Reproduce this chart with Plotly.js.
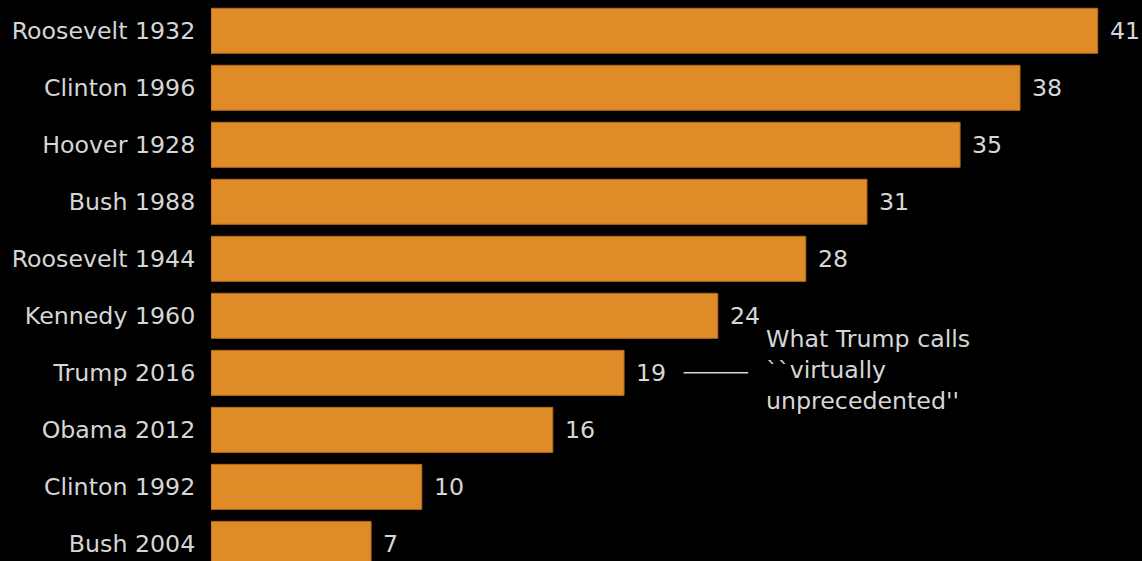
<!DOCTYPE html>
<html>
<head>
<meta charset="utf-8">
<script src="https://cdn.plot.ly/plotly-3.0.1.min.js"></script>
<style>html,body{margin:0;padding:0;background:#000;}#chart{width:1142px;height:561px;}</style>
</head>
<body>
<div id="chart"></div>
<script>
const categories = ["Roosevelt 1932","Clinton 1996","Hoover 1928","Bush 1988","Roosevelt 1944","Kennedy 1960","Trump 2016","Obama 2012","Clinton 1992","Bush 2004"];
const labels = [41, 38, 35, 31, 28, 24, 19, 16, 10, 7];
const lengths = [41.43, 37.8, 35.0, 30.65, 27.79, 23.68, 19.3, 15.97, 9.85, 7.48];
const calloutCategory = "Trump 2016";
const calloutText = "What Trump calls<br>``virtually<br>unprecedented''";

const FONT = "DejaVu Sans, Verdana, sans-serif";
const TXT = "#d6d6d6";
const FS = 23.7;

const trace = {
  type: "bar",
  orientation: "h",
  y: categories,
  x: lengths,
  marker: {color: "#df8b27", line: {color: "#b36a1c", width: 1}},
  width: 0.79,
  hoverinfo: "none"
};

const annotations = categories.map((c, i) => ({
  x: lengths[i], y: c, xref: "x", yref: "y",
  text: String(labels[i]), showarrow: false,
  xanchor: "left", yanchor: "middle", xshift: 10,
  font: {family: FONT, size: FS, color: TXT}
}));

const ci = categories.indexOf(calloutCategory);
annotations.push({
  x: lengths[ci] + 6.55, y: ci, xref: "x", yref: "y",
  text: calloutText, showarrow: false, align: "left",
  xanchor: "left", yanchor: "middle", yshift: 3,
  font: {family: FONT, size: FS, color: TXT}
});

const shapes = [{
  type: "line", xref: "x", yref: "y",
  x0: lengths[ci] + 2.78, x1: lengths[ci] + 5.8, y0: ci, y1: ci,
  line: {color: TXT, width: 1.5}
}];

const layout = {
  width: 1142, height: 561,
  paper_bgcolor: "#000", plot_bgcolor: "#000",
  margin: {l: 211, r: 0, t: 0, b: 0, pad: 0},
  showlegend: false,
  xaxis: {range: [0, 43.5], visible: false, fixedrange: true},
  yaxis: {
    type: "category", range: [9.3, -0.54],
    showgrid: false, zeroline: false, showline: false,
    ticks: "outside", ticklen: 10, tickcolor: "rgba(0,0,0,0)",
    tickfont: {family: FONT, size: FS, color: TXT}
  },
  annotations: annotations,
  shapes: shapes
};

Plotly.newPlot("chart", [trace], layout, {displayModeBar: false, staticPlot: true});
</script>
</body>
</html>
